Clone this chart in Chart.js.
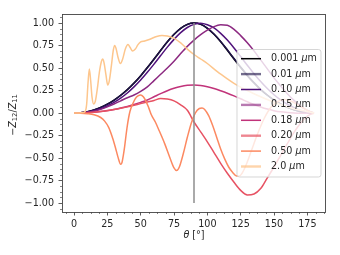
<!DOCTYPE html>
<html>
<head>
<meta charset="utf-8">
<script src="https://cdn.jsdelivr.net/npm/chart.js@4.4.1/dist/chart.umd.min.js"></script>
<style>
  html, body { margin: 0; padding: 0; background: #fff; }
  #wrap { width: 340px; height: 255px; }
</style>
</head>
<body>
<div id="wrap"><canvas id="ratio-chart" width="340" height="255"></canvas></div>
<script>
// particle sizes (legend order)
const sizeLabels = ["0.001", "0.01", "0.10", "0.15", "0.18", "0.20", "0.50", "2.0"];
const seriesColors = ["#000004", "#1d1147", "#50127b", "#8c2981", "#c1337a", "#e75263", "#fc8961", "#fdc68d"];
const legendColors = [
  "#000004",
  "rgba(29,17,71,0.62)",
  "#50127b",
  "rgba(140,41,129,0.62)",
  "#c1337a",
  "rgba(231,82,99,0.7)",
  "#fc8961",
  "rgba(254,194,135,0.7)"
];
const legendWidths = [1.5, 2.4, 1.5, 2.4, 1.5, 2.4, 1.5, 2.4];

// scattering angle grids
const theta5 = [0, 5, 10, 15, 20, 25, 30, 35, 40, 45, 50, 55, 60, 65, 70, 75, 80, 85, 90,
  95, 100, 105, 110, 115, 120, 125, 130, 135, 140, 145, 150, 155, 160, 165, 170, 175, 180];
const theta050 = [0, 5, 10, 15, 20, 23, 26, 29, 31, 33, 35, 36, 37, 38, 39, 40, 41, 42, 44, 46, 48, 50,
  52, 54, 56, 58, 61, 64, 68, 72, 75, 77, 79, 82, 85, 88, 91, 94, 96, 98, 101, 104, 107, 110,
  113, 116, 119, 122, 124, 126, 129, 133, 138, 143, 148, 153, 158, 163, 168, 173, 177, 180];
const theta200 = [0, 4, 7, 8.5, 9.5, 10.5, 11.5, 12.5, 13.5, 14.8, 16, 17.5, 19, 20.5, 21.5, 22.5,
  24, 25.3, 26.5, 28, 29.5, 30.5, 31.5, 33, 34.8, 36.5, 38.5, 40.5, 42, 44, 46, 48, 50, 53, 57,
  62, 66, 70, 75, 80, 85, 90, 95, 100, 107.5, 115, 120, 130, 140, 150, 160, 170, 180];

// -Z12/Z11
const ratio0001 = [0, 0.004, 0.015, 0.035, 0.062, 0.098, 0.143, 0.197, 0.260, 0.333, 0.415, 0.505,
  0.600, 0.697, 0.791, 0.874, 0.941, 0.985, 1.0, 0.985, 0.941, 0.874, 0.791, 0.697, 0.600, 0.505,
  0.415, 0.333, 0.260, 0.197, 0.143, 0.098, 0.062, 0.035, 0.015, 0.004, 0];
const ratio001 = [0, 0.004, 0.015, 0.034, 0.061, 0.097, 0.141, 0.195, 0.258, 0.330, 0.412, 0.502,
  0.597, 0.694, 0.788, 0.872, 0.940, 0.984, 1.0, 0.987, 0.944, 0.878, 0.796, 0.702, 0.606, 0.511,
  0.420, 0.338, 0.264, 0.200, 0.145, 0.100, 0.063, 0.035, 0.015, 0.004, 0];
const ratio010 = [0, 0.002, 0.010, 0.025, 0.047, 0.078, 0.117, 0.165, 0.222, 0.290, 0.366, 0.452,
  0.543, 0.638, 0.732, 0.818, 0.893, 0.950, 0.985, 0.997, 0.980, 0.945, 0.885, 0.810, 0.722, 0.627,
  0.530, 0.437, 0.350, 0.272, 0.203, 0.145, 0.097, 0.058, 0.028, 0.008, 0];
const ratio015 = [0, 0.002, 0.008, 0.020, 0.040, 0.068, 0.100, 0.135, 0.170, 0.200, 0.240, 0.290,
  0.360, 0.430, 0.500, 0.575, 0.660, 0.740, 0.810, 0.870, 0.920, 0.960, 0.980, 0.975, 0.930, 0.860,
  0.780, 0.690, 0.590, 0.490, 0.390, 0.300, 0.215, 0.140, 0.078, 0.030, 0];
const ratio018 = [0, 0.001, 0.004, 0.009, 0.017, 0.027, 0.040, 0.055, 0.073, 0.094, 0.118, 0.145,
  0.180, 0.215, 0.248, 0.275, 0.295, 0.307, 0.310, 0.305, 0.292, 0.272, 0.247, 0.220, 0.190, 0.158,
  0.125, 0.094, 0.067, 0.044, 0.026, 0.013, 0.005, 0.0, -0.002, -0.001, 0];
const ratio020 = [0, 0.001, 0.004, 0.009, 0.016, 0.026, 0.038, 0.052, 0.068, 0.086, 0.104, 0.122,
  0.140, 0.160, 0.155, 0.135, 0.090, 0.030, -0.100, -0.210, -0.320, -0.440, -0.560, -0.670, -0.770,
  -0.860, -0.910, -0.900, -0.840, -0.720, -0.600, -0.470, -0.340, -0.215, -0.110, -0.035, 0];
const ratio050 = [0, -0.002, -0.008, -0.020, -0.050, -0.090, -0.160, -0.280, -0.380, -0.490, -0.570,
  -0.550, -0.470, -0.370, -0.250, -0.140, -0.050, 0.020, 0.100, 0.160, 0.190, 0.200, 0.180, 0.130,
  0.060, -0.020, -0.100, -0.200, -0.340, -0.500, -0.610, -0.640, -0.600, -0.450, -0.270, -0.110,
  0.0, 0.050, 0.055, 0.040, -0.030, -0.140, -0.270, -0.400, -0.510, -0.600, -0.660, -0.700, -0.700,
  -0.670, -0.580, -0.420, -0.220, -0.050, 0.070, 0.130, 0.150, 0.130, 0.090, 0.045, 0.015, 0];
const ratio200 = [0, 0.0, 0.005, 0.02, 0.10, 0.33, 0.49, 0.36, 0.18, 0.10, 0.13, 0.27, 0.45, 0.57,
  0.60, 0.56, 0.42, 0.31, 0.36, 0.52, 0.70, 0.75, 0.72, 0.62, 0.55, 0.60, 0.71, 0.76, 0.73, 0.69,
  0.71, 0.76, 0.79, 0.80, 0.82, 0.85, 0.86, 0.855, 0.83, 0.78, 0.71, 0.65, 0.60, 0.55, 0.46, 0.38,
  0.33, 0.25, 0.18, 0.12, 0.07, 0.03, 0];

const seriesTheta = [theta5, theta5, theta5, theta5, theta5, theta5, theta050, theta200];
const seriesRatio = [ratio0001, ratio001, ratio010, ratio015, ratio018, ratio020, ratio050, ratio200];

// axis ticks
const xTicks = [0, 25, 50, 75, 100, 125, 150, 175];
const yTicks = [-1, -0.75, -0.5, -0.25, 0, 0.25, 0.5, 0.75, 1];
const markerAngle = 90;

const FONT = "DejaVu Sans";
const TEXT = "#262626";

const datasets = sizeLabels.map((s, i) => ({
  label: s + " μm",
  data: seriesTheta[i].map((t, k) => ({ x: t, y: seriesRatio[i][k] })),
  borderColor: seriesColors[i],
  borderWidth: 1.5,
  pointRadius: 0,
  cubicInterpolationMode: "monotone",
  fill: false,
  order: sizeLabels.length - i
}));
datasets.push({
  label: "marker",
  data: [{ x: markerAngle, y: -1 }, { x: markerAngle, y: 1 }],
  borderColor: "#8e8e8e",
  borderWidth: 1.5,
  pointRadius: 0,
  order: -1
});

// frame, minor ticks, axis titles and in-plot legend
const extras = {
  id: "extras",
  afterDatasetsDraw(chart) {
    const { ctx, chartArea: a, scales: { x, y } } = chart;
    ctx.save();

    // minor ticks
    ctx.strokeStyle = "#333";
    ctx.lineWidth = 0.6;
    ctx.beginPath();
    for (let v = Math.ceil(x.min / 6.25) * 6.25; v <= x.max; v += 6.25) {
      if (Math.abs(v % 25) < 1e-6) continue;
      const px = Math.round(x.getPixelForValue(v)) + 0.5;
      ctx.moveTo(px, a.bottom);
      ctx.lineTo(px, a.bottom + 2);
    }
    for (let v = Math.ceil(y.min / 0.0625) * 0.0625; v <= y.max; v += 0.0625) {
      if (Math.abs((v / 0.25) - Math.round(v / 0.25)) < 1e-6) continue;
      const py = Math.round(y.getPixelForValue(v)) + 0.5;
      ctx.moveTo(a.left - 2, py);
      ctx.lineTo(a.left, py);
    }
    ctx.stroke();

    // frame
    ctx.strokeStyle = "#444";
    ctx.lineWidth = 0.9;
    ctx.strokeRect(Math.round(a.left) + 0.5, Math.round(a.top) + 0.5,
      Math.round(a.right - a.left) - 1, Math.round(a.bottom - a.top));

    // legend box
    const lx = 237, ly = 49.5, lw = 84, lh = 127.5;
    ctx.beginPath();
    ctx.roundRect(lx, ly, lw, lh, 2.5);
    ctx.fillStyle = "rgba(255,255,255,0.8)";
    ctx.fill();
    ctx.strokeStyle = "rgba(204,204,204,0.8)";
    ctx.lineWidth = 1;
    ctx.stroke();

    ctx.textBaseline = "middle";
    ctx.textAlign = "left";
    sizeLabels.forEach((s, i) => {
      const ry = 58.7 + i * 15.4;
      ctx.beginPath();
      ctx.strokeStyle = legendColors[i];
      ctx.lineWidth = legendWidths[i];
      ctx.moveTo(241, ry);
      ctx.lineTo(261, ry);
      ctx.stroke();
      ctx.fillStyle = TEXT;
      let tx = 271;
      ctx.font = `9.6px "${FONT}"`;
      const num = s + " ";
      ctx.fillText(num, tx, ry);
      tx += ctx.measureText(num).width;
      ctx.font = `italic 9.6px "${FONT}"`;
      ctx.fillText("μ", tx, ry);
      tx += ctx.measureText("μ").width;
      ctx.font = `9.6px "${FONT}"`;
      ctx.fillText("m", tx, ry);
    });

    // x title: θ [°]
    ctx.fillStyle = TEXT;
    const xParts = [["θ", "italic 9.6px"], [" [°]", "9.6px"]];
    drawParts(ctx, xParts, (a.left + a.right) / 2, 235);

    // y title: −Z12/Z11, rotated
    ctx.save();
    ctx.translate(13, (a.top + a.bottom) / 2 + 2);
    ctx.rotate(-Math.PI / 2);
    const yParts = [["−", "9.6px"], ["Z", "italic 9.6px"], ["12", "6.8px", 2.5],
      ["/", "9.6px"], ["Z", "italic 9.6px"], ["11", "6.8px", 2.5]];
    drawParts(ctx, yParts, 0, 0);
    ctx.restore();

    ctx.restore();
  }
};

function drawParts(ctx, parts, cx, cy) {
  let total = 0;
  parts.forEach(p => {
    ctx.font = `${p[1]} "${FONT}"`;
    total += ctx.measureText(p[0]).width;
  });
  let tx = cx - total / 2;
  ctx.textBaseline = "middle";
  ctx.textAlign = "left";
  parts.forEach(p => {
    ctx.font = `${p[1]} "${FONT}"`;
    ctx.fillText(p[0], tx, cy + (p[2] || 0));
    tx += ctx.measureText(p[0]).width;
  });
}

const fmtY = v => (v < 0 ? "−" : "") + Math.abs(v).toFixed(2);

new Chart(document.getElementById("ratio-chart"), {
  type: "line",
  data: { datasets },
  plugins: [extras],
  options: {
    responsive: false,
    animation: false,
    devicePixelRatio: 1,
    layout: { padding: { left: 0, right: 14, top: 14, bottom: 0 } },
    plugins: { legend: { display: false }, tooltip: { enabled: false } },
    scales: {
      x: {
        type: "linear",
        min: -9,
        max: 189,
        afterBuildTicks: s => { s.ticks = xTicks.map(v => ({ value: v })); },
        afterFit: s => { s.height = 43; },
        grid: { drawOnChartArea: false, drawTicks: true, tickLength: 3.5, tickWidth: 0.8, tickColor: "#333" },
        border: { display: false },
        ticks: { autoSkip: false, maxRotation: 0, padding: 3, color: TEXT,
          font: { family: FONT, size: 9.6 } }
      },
      y: {
        type: "linear",
        min: -1.1,
        max: 1.1,
        afterBuildTicks: s => { s.ticks = yTicks.map(v => ({ value: v })); },
        afterFit: s => { s.width = 62; },
        grid: { drawOnChartArea: false, drawTicks: true, tickLength: 3.5, tickWidth: 0.8, tickColor: "#333" },
        border: { display: false },
        ticks: { autoSkip: false, padding: 4.5, color: TEXT, callback: fmtY,
          font: { family: FONT, size: 9.6 } }
      }
    }
  }
});
</script>
</body>
</html>
